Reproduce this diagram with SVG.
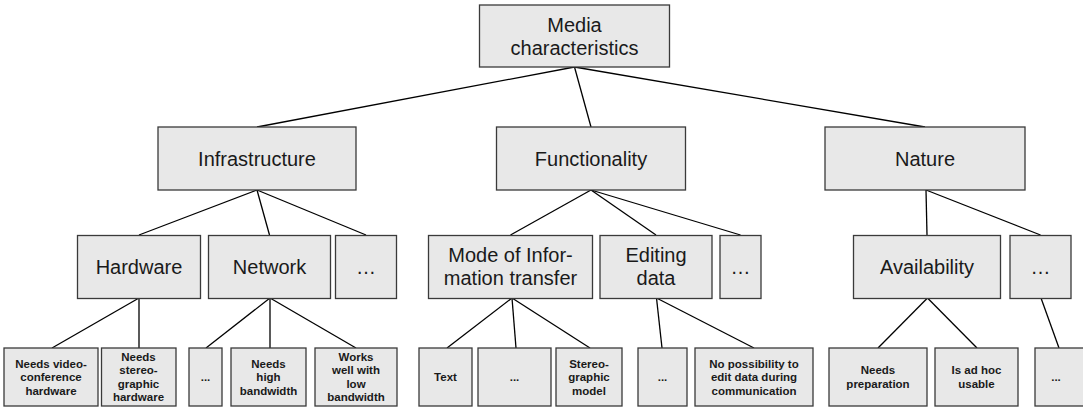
<svg xmlns="http://www.w3.org/2000/svg" width="1083" height="408" viewBox="0 0 1083 408">
<style>
.box{fill:#e8e8e8;stroke:#3a3a3a;stroke-width:1.3}
.t{font-family:"Liberation Sans",Arial,sans-serif;font-size:20px;fill:#1a1a1a;text-anchor:middle}
.s{font-family:"Liberation Sans",Arial,sans-serif;font-size:11.5px;font-weight:bold;fill:#1a1a1a;text-anchor:middle}
.c{stroke:#000;stroke-width:1.3;fill:none}
</style>
<rect width="1083" height="408" fill="#fff"/>
<g id="connectors">
<line class="c" x1="574.5" y1="67" x2="257" y2="127"/>
<line class="c" x1="574.5" y1="67" x2="591" y2="127"/>
<line class="c" x1="574.5" y1="67" x2="925" y2="127"/>
<line class="c" x1="257" y1="190" x2="139" y2="235"/>
<line class="c" x1="257" y1="190" x2="269.5" y2="235"/>
<line class="c" x1="257" y1="190" x2="366" y2="235"/>
<line class="c" x1="591" y1="190" x2="510.5" y2="235"/>
<line class="c" x1="591" y1="190" x2="656" y2="235"/>
<line class="c" x1="591" y1="190" x2="740.5" y2="235"/>
<line class="c" x1="926" y1="190" x2="927" y2="235"/>
<line class="c" x1="926" y1="190" x2="1040.5" y2="235"/>
<line class="c" x1="139" y1="298" x2="52" y2="348"/>
<line class="c" x1="139" y1="298" x2="139" y2="348"/>
<line class="c" x1="270" y1="298" x2="206" y2="348"/>
<line class="c" x1="270" y1="298" x2="270" y2="348"/>
<line class="c" x1="270" y1="298" x2="356" y2="348"/>
<line class="c" x1="512" y1="298" x2="447" y2="348"/>
<line class="c" x1="512" y1="298" x2="516" y2="348"/>
<line class="c" x1="512" y1="298" x2="590" y2="348"/>
<line class="c" x1="656.5" y1="298" x2="662" y2="348"/>
<line class="c" x1="656.5" y1="298" x2="754" y2="348"/>
<line class="c" x1="927.5" y1="298" x2="878" y2="348"/>
<line class="c" x1="927.5" y1="298" x2="977" y2="348"/>
<line class="c" x1="1041" y1="298" x2="1059" y2="348"/>
</g>
<g id="n-media"><rect class="box" x="479.5" y="5" width="190" height="62"/><text class="t" x="574.5" y="31.5">Media</text><text class="t" x="574.5" y="54.5">characteristics</text></g>
<g id="n-infra"><rect class="box" x="158" y="127" width="198" height="63"/><text class="t" x="257" y="165.5">Infrastructure</text></g>
<g id="n-func"><rect class="box" x="496.5" y="127" width="189" height="63"/><text class="t" x="591" y="165.5">Functionality</text></g>
<g id="n-nature"><rect class="box" x="825" y="127" width="200" height="63"/><text class="t" x="925" y="165.5">Nature</text></g>
<g id="n-hardware"><rect class="box" x="77.5" y="235.5" width="123" height="63"/><text class="t" x="139" y="274">Hardware</text></g>
<g id="n-network"><rect class="box" x="208.5" y="235.5" width="122" height="63"/><text class="t" x="269.5" y="274">Network</text></g>
<g id="n-infra-more"><rect class="box" x="335.5" y="235.5" width="61" height="63"/><text class="t" x="366" y="274">…</text></g>
<g id="n-mode"><rect class="box" x="428.5" y="235.5" width="164" height="63"/><text class="t" x="510.5" y="262">Mode of Infor-</text><text class="t" x="510.5" y="285">mation transfer</text></g>
<g id="n-editing"><rect class="box" x="600" y="235.5" width="112" height="63"/><text class="t" x="656" y="262">Editing</text><text class="t" x="656" y="285">data</text></g>
<g id="n-func-more"><rect class="box" x="720" y="235.5" width="41" height="63"/><text class="t" x="740.5" y="274">…</text></g>
<g id="n-avail"><rect class="box" x="853.5" y="235.5" width="147" height="63"/><text class="t" x="927" y="274">Availability</text></g>
<g id="n-nature-more"><rect class="box" x="1010" y="235.5" width="61" height="63"/><text class="t" x="1040.5" y="274">…</text></g>
<g id="n-video"><rect class="box" x="4" y="348" width="94" height="58"/><text class="s" x="51" y="367.5">Needs video-</text><text class="s" x="51" y="381">conference</text><text class="s" x="51" y="394.5">hardware</text></g>
<g id="n-stereo"><rect class="box" x="101.5" y="348" width="74.5" height="58"/><text class="s" x="138.5" y="360.5">Needs</text><text class="s" x="138.5" y="374">stereo-</text><text class="s" x="138.5" y="387.5">graphic</text><text class="s" x="138.5" y="401">hardware</text></g>
<g id="n-net-more"><rect class="box" x="189" y="348" width="33" height="58"/><text class="s" x="205.5" y="381">...</text></g>
<g id="n-high"><rect class="box" x="231" y="348" width="75" height="58"/><text class="s" x="268.5" y="367.5">Needs</text><text class="s" x="268.5" y="381">high</text><text class="s" x="268.5" y="394.5">bandwidth</text></g>
<g id="n-low"><rect class="box" x="315" y="348" width="82" height="58"/><text class="s" x="356" y="360.5">Works</text><text class="s" x="356" y="374">well with</text><text class="s" x="356" y="387.5">low</text><text class="s" x="356" y="401">bandwidth</text></g>
<g id="n-text"><rect class="box" x="419" y="348" width="53" height="58"/><text class="s" x="445.5" y="381">Text</text></g>
<g id="n-mode-more"><rect class="box" x="478" y="348" width="73" height="58"/><text class="s" x="514.5" y="381">...</text></g>
<g id="n-stereomodel"><rect class="box" x="556" y="348" width="66" height="58"/><text class="s" x="589" y="367.5">Stereo-</text><text class="s" x="589" y="381">graphic</text><text class="s" x="589" y="394.5">model</text></g>
<g id="n-edit-more"><rect class="box" x="638" y="348" width="49" height="58"/><text class="s" x="662.5" y="381">...</text></g>
<g id="n-noedit"><rect class="box" x="695" y="348" width="118" height="58"/><text class="s" x="754" y="367.5">No possibility to</text><text class="s" x="754" y="381">edit data during</text><text class="s" x="754" y="394.5">communication</text></g>
<g id="n-prep"><rect class="box" x="829" y="348" width="98" height="58"/><text class="s" x="878" y="374">Needs</text><text class="s" x="878" y="387.5">preparation</text></g>
<g id="n-adhoc"><rect class="box" x="935" y="348" width="83" height="58"/><text class="s" x="976.5" y="374">Is ad hoc</text><text class="s" x="976.5" y="387.5">usable</text></g>
<g id="n-avail-more"><rect class="box" x="1035" y="348" width="55" height="58"/><text class="s" x="1056" y="381">...</text></g>
</svg>
